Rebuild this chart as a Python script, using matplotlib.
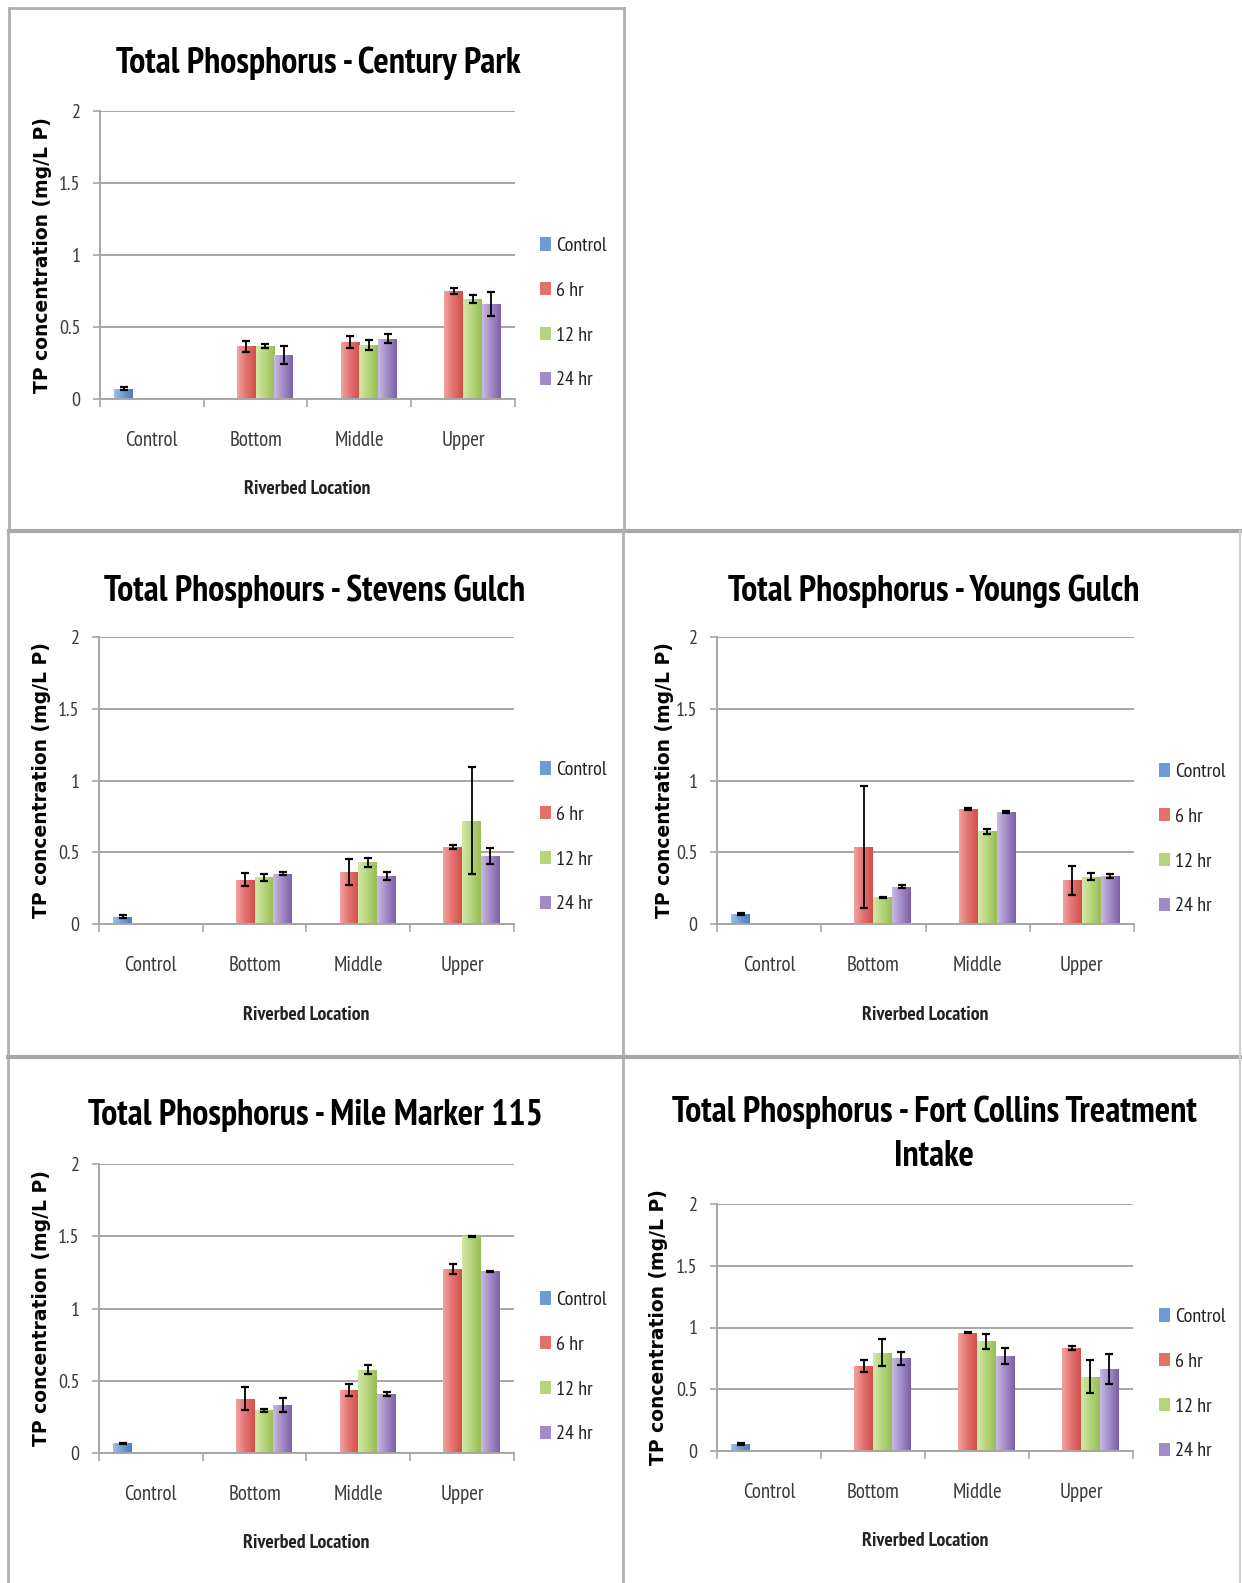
import numpy as np
import matplotlib
matplotlib.use("Agg")
import matplotlib.pyplot as plt
from matplotlib.colors import LinearSegmentedColormap
from matplotlib.patches import Patch
from matplotlib.lines import Line2D

# ---------------- data ----------------
categories = ["Control", "Bottom", "Middle", "Upper"]
series = ["Control", "6 hr", "12 hr", "24 hr"]

titles = [
    "Total Phosphorus - Century Park",
    "Total Phosphours - Stevens Gulch",
    "Total Phosphorus - Youngs Gulch",
    "Total Phosphorus - Mile Marker 115",
    "Total Phosphorus - Fort Collins Treatment\nIntake",
]

# control value (Control category) and treatment values for Bottom/Middle/Upper
control_val = [0.07, 0.05, 0.07, 0.067, 0.055]
control_err = [0.01, 0.01, 0.005, 0.005, 0.01]

# Century Park
cp_6 = [0.365, 0.395, 0.75]
cp_12 = [0.37, 0.375, 0.695]
cp_24 = [0.305, 0.42, 0.66]
cp_6e = [0.04, 0.04, 0.02]
cp_12e = [0.015, 0.035, 0.025]
cp_24e = [0.06, 0.03, 0.085]

# Stevens Gulch
sg_6 = [0.31, 0.36, 0.535]
sg_12 = [0.325, 0.43, 0.72]
sg_24 = [0.35, 0.335, 0.475]
sg_6e = [0.045, 0.09, 0.015]
sg_12e = [0.025, 0.03, 0.375]
sg_24e = [0.01, 0.03, 0.058]

# Youngs Gulch
yg_6 = [0.535, 0.80, 0.305]
yg_12 = [0.185, 0.645, 0.33]
yg_24 = [0.26, 0.78, 0.335]
yg_6e = [0.425, 0.008, 0.10]
yg_12e = [0.005, 0.015, 0.025]
yg_24e = [0.01, 0.008, 0.015]

# Mile Marker 115
mm_6 = [0.375, 0.435, 1.273]
mm_12 = [0.297, 0.577, 1.50]
mm_24 = [0.333, 0.41, 1.259]
mm_6e = [0.08, 0.04, 0.035]
mm_12e = [0.01, 0.03, 0.003]
mm_24e = [0.05, 0.015, 0.003]

# Fort Collins Treatment Intake
fc_6 = [0.686, 0.958, 0.833]
fc_12 = [0.797, 0.889, 0.603]
fc_24 = [0.75, 0.77, 0.664]
fc_6e = [0.05, 0.003, 0.015]
fc_12e = [0.11, 0.06, 0.13]
fc_24e = [0.05, 0.065, 0.125]

yticks = [0, 0.5, 1, 1.5, 2]
ytick_labels = ["0", "0.5", "1", "1.5", "2"]

panels_vals = [
    (cp_6, cp_12, cp_24, cp_6e, cp_12e, cp_24e),
    (sg_6, sg_12, sg_24, sg_6e, sg_12e, sg_24e),
    (yg_6, yg_12, yg_24, yg_6e, yg_12e, yg_24e),
    (mm_6, mm_12, mm_24, mm_6e, mm_12e, mm_24e),
    (fc_6, fc_12, fc_24, fc_6e, fc_12e, fc_24e),
]

# ---------------- style ----------------
W, H = 1242, 1583
fig = plt.figure(figsize=(W / 100, H / 100), dpi=100)
fig.patch.set_facecolor("white")

NARROW = ["PT Sans Narrow", "Open Sans Condensed", "DejaVu Sans"]
BOLDY = ["DejaVu Sans"]

light = ["#9dc0ea", "#f2a3a1", "#d3e8a6", "#c9bbe3"]
dark = ["#4a7fc0", "#d24f4b", "#99bd55", "#7c5fa6"]
mid = ["#6f9bd4", "#e2716e", "#b5d47b", "#a18ac6"]
grid_c = "#a6a6a6"
text_c = "#3a3a3a"

# axes rectangles in pixels: left, right, top(y=2), bottom(y=0)
axes_px = [
    (100, 515, 111, 399),
    (99, 514, 637, 924),
    (717, 1134, 637, 924),
    (99, 514, 1164, 1453),
    (717, 1133, 1204, 1451),
]
title_pos = [(318, 63), (315, 591), (934, 591), (315, 1115), (934, 1134)]
ylabel_x = [43, 42, 664, 42, 659]
legend_px = [(540, 249), (540, 773), (1159, 775), (540, 1303), (1159, 1320)]

def fx(x):
    return x / W

def fy(y):
    return 1 - y / H

nb = 4
gap = 1.5
bw = 1.0 / (nb + gap)

def grad_bar(ax, rects, i):
    cmap = LinearSegmentedColormap.from_list("g%d" % i, [light[i], mid[i], dark[i]])
    grad = np.linspace(0, 1, 64).reshape(1, -1)
    for r in rects:
        x0, w_, h_ = r.get_x(), r.get_width(), r.get_height()
        if h_ <= 0:
            continue
        im = ax.imshow(grad, cmap=cmap, extent=(x0, x0 + w_, 0, h_),
                       aspect="auto", zorder=2, interpolation="bilinear")
        im.set_clip_path(r)

for k in range(5):
    l, r, t, b = axes_px[k]
    ax = fig.add_axes([fx(l), fy(b), fx(r - l), (b - t) / H])
    v6, v12, v24, e6, e12, e24 = panels_vals[k]
    xc = np.arange(len(categories))
    handles = []
    data = [
        ([0], [control_val[k]], [control_err[k]]),
        (xc[1:], v6, e6),
        (xc[1:], v12, e12),
        (xc[1:], v24, e24),
    ]
    for i, (xs, vals, errs) in enumerate(data):
        xs = np.asarray(xs, dtype=float) + (i - 1.5) * bw
        rects = ax.bar(xs, vals, width=bw, color=mid[i], edgecolor="none",
                       zorder=1, align="center")
        grad_bar(ax, rects, i)
        ax.errorbar(xs, vals, yerr=errs, fmt="none", ecolor="black",
                    elinewidth=1.3, capsize=3.2, capthick=1.6, zorder=4)
        handles.append(Patch(facecolor=mid[i], edgecolor="none", label=series[i]))

    ax.set_xlim(-0.5, 3.5)
    ax.set_ylim(0, 2)
    ax.set_yticks(yticks)
    ax.set_yticklabels(ytick_labels, family=NARROW, fontsize=14.5, color=text_c)
    ax.set_xticks(xc)
    ax.set_xticklabels(categories, family=NARROW, fontsize=15, color=text_c)
    ax.set_xticks(np.arange(-0.5, 4.0, 1.0), minor=True)
    ax.tick_params(axis="x", which="major", length=0, pad=23)
    ax.tick_params(axis="x", which="minor", length=6, width=1.2, color=grid_c, direction="out")
    ax.tick_params(axis="y", which="major", length=5, width=1.2, color=grid_c, pad=9)
    for s in ["top", "right"]:
        ax.spines[s].set_visible(False)
    for s in ["left", "bottom"]:
        ax.spines[s].set_color(grid_c)
        ax.spines[s].set_linewidth(1.4)
    ax.spines["bottom"].set_zorder(5)
    ax.yaxis.grid(True, color=grid_c, linewidth=1.4)
    ax.set_axisbelow(True)
    ax.set_facecolor("none")

    ax.set_xlabel("Riverbed Location", family=NARROW, fontweight="bold",
                  fontsize=14.2, color="#222222", labelpad=22)
    fig.text(fx(ylabel_x[k]), fy((t + b) / 2), "TP concentration (mg/L P)",
             rotation=90, ha="center", va="center", family=BOLDY,
             fontweight="bold", fontsize=13.5, color="black")
    tx, ty = title_pos[k]
    fig.text(fx(tx), fy(ty), titles[k], ha="center", va="center",
             family=NARROW, fontweight="bold", fontsize=26, color="black",
             linespacing=1.42)

    lx, ly = legend_px[k]
    leg = fig.legend(handles=handles, loc="upper left",
                     bbox_to_anchor=(fx(lx), fy(ly - 12)), frameon=False,
                     prop={"family": NARROW, "size": 14.5}, handlelength=0.55,
                     handleheight=0.65, handletextpad=0.25, labelspacing=1.33,
                     borderpad=0, borderaxespad=0)
    for txt in leg.get_texts():
        txt.set_color("#222222")

# ---------------- panel borders ----------------
border_c = "#b0b0b0"
def hline(y, x0, x1, lw=2.0, c=border_c):
    fig.add_artist(Line2D([fx(x0), fx(x1)], [fy(y), fy(y)], color=c, lw=lw))

def vline(x, y0, y1, lw=2.0, c=border_c):
    fig.add_artist(Line2D([fx(x), fx(x)], [fy(y0), fy(y1)], color=c, lw=lw))

hline(8, 9, 624)
vline(9, 8, 530)
vline(624, 8, 530)
hline(531, 9, 1242, lw=3.0, c="#a8a8a8")
vline(8, 531, 1583)
vline(623, 531, 1583)
hline(1057, 8, 1242, lw=3.0, c="#a8a8a8")
vline(1240, 531, 1583, lw=1.5, c="#d0d0d0")

fig.savefig("out.png", dpi=100, facecolor="white")
